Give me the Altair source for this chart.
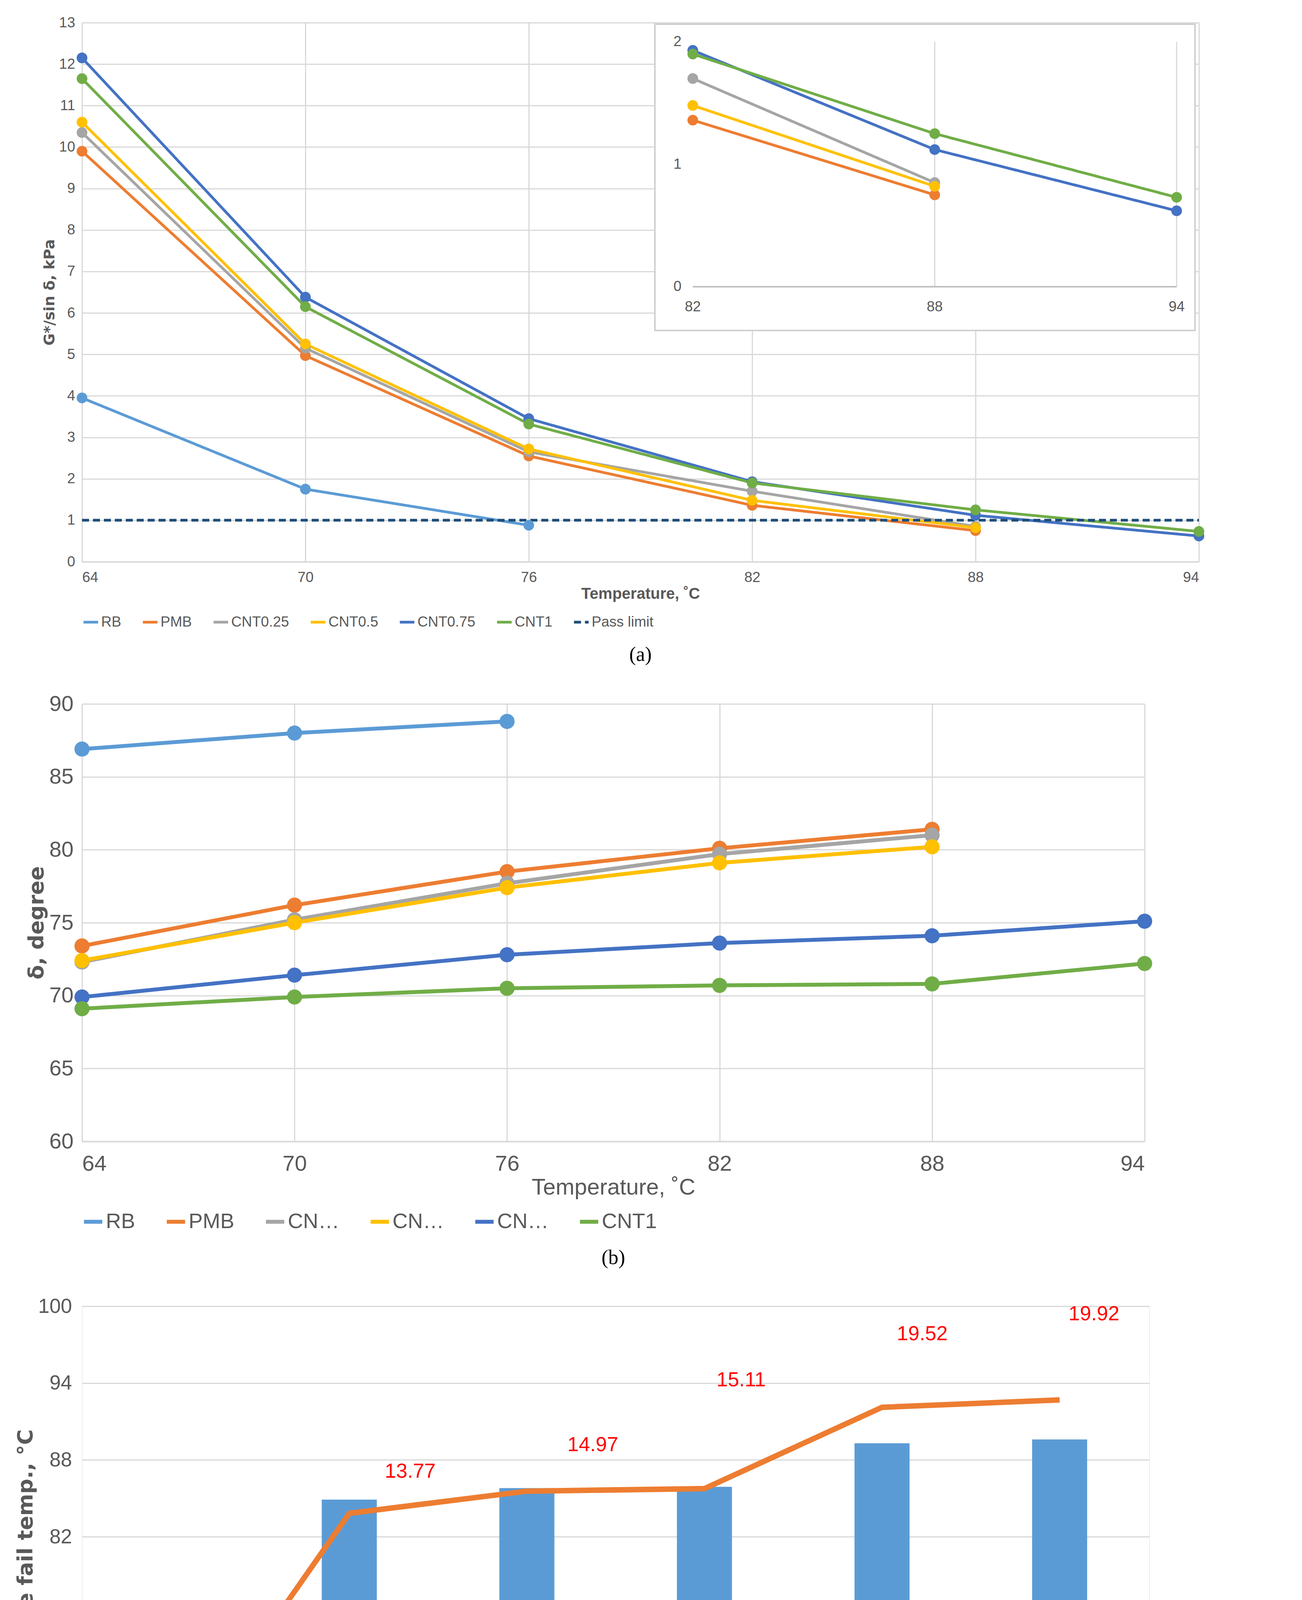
import altair as alt
import pandas as pd

# ---- data ----
temps = [64, 70, 76, 82, 88, 94]
series = ["RB", "PMB", "CNT0.25", "CNT0.5", "CNT0.75", "CNT1"]
colors = ["#5B9BD5", "#ED7D31", "#A5A5A5", "#FFC000", "#4472C4", "#70AD47"]

# (a) G*/sin delta, kPa
g_rb = [3.95, 1.75, 0.88]
g_pmb = [9.9, 4.97, 2.55, 1.36, 0.75]
g_cnt025 = [10.35, 5.15, 2.65, 1.70, 0.85]
g_cnt05 = [10.6, 5.25, 2.72, 1.48, 0.82]
g_cnt075 = [12.15, 6.38, 3.45, 1.93, 1.12, 0.62]
g_cnt1 = [11.65, 6.15, 3.32, 1.90, 1.25, 0.73]
pass_limit = 1.0

# (b) phase angle, degree
d_rb = [86.9, 88.0, 88.8]
d_pmb = [73.4, 76.2, 78.5, 80.1, 81.4]
d_cnt025 = [72.3, 75.2, 77.7, 79.7, 81.0]
d_cnt05 = [72.4, 75.0, 77.4, 79.1, 80.2]
d_cnt075 = [69.9, 71.4, 72.8, 73.6, 74.1, 75.1]
d_cnt1 = [69.1, 69.9, 70.5, 70.7, 70.8, 72.2]

# (c) true failure temperature and change
fail_temp = [74.6, 84.9, 85.8, 85.9, 89.3, 89.6]
change = [0.00, 13.77, 14.97, 15.11, 19.52, 19.92]

FONT = "Liberation Sans"
GRID = "#D9D9D9"
TXT = "#595959"


def long_df(lists):
    rows = []
    for name, vals in zip(series, lists):
        for t, v in zip(temps, vals):
            rows.append({"T": t, "v": v, "s": name})
    return pd.DataFrame(rows)


ga = long_df([g_rb, g_pmb, g_cnt025, g_cnt05, g_cnt075, g_cnt1])
pl = pd.DataFrame({"T": [64, 94], "v": [pass_limit] * 2, "s": ["Pass limit"] * 2})
ga_all = pd.concat([ga, pl])

dom_a = series + ["Pass limit"]
rng_a = colors + ["#1F4E79"]
dash_a = [[1, 0]] * 6 + [[18, 10]]

# ---------- panel (a) ----------
xa = alt.X("T:Q", scale=alt.Scale(domain=[64, 94]), title="Temperature, ˚C",
           axis=alt.Axis(values=temps, format="d", labelFontSize=37, titleFontSize=40,
                         gridColor=GRID, gridWidth=3, domainColor=GRID, domainWidth=4,
                         ticks=False, labelPadding=22, labelFont=FONT, titleFont=FONT,
                         titleColor=TXT, labelColor=TXT))
ya = alt.Y("v:Q", scale=alt.Scale(domain=[0, 13]), title="G*/sin δ, kPa",
           axis=alt.Axis(values=list(range(14)), format="d", labelFontSize=37, titleFontSize=38,
                         gridColor=GRID, gridWidth=3, domain=False, ticks=False, labelPadding=18,
                         labelFont=FONT, titleFont="DejaVu Sans", titleColor=TXT,
                         labelColor=TXT))

col_a = alt.Color("s:N", scale=alt.Scale(domain=dom_a, range=rng_a), sort=dom_a,
                  legend=alt.Legend(title=None, orient="bottom", direction="horizontal",
                                    symbolType="stroke", symbolStrokeWidth=7, symbolSize=1400,
                                    labelFontSize=37, labelFont=FONT, labelColor=TXT,
                                    columnPadding=40, offset=30))
dash_enc = alt.StrokeDash("s:N", scale=alt.Scale(domain=dom_a, range=dash_a), sort=dom_a,
                          legend=None)

base_a = alt.Chart(ga_all)
lines_a = base_a.mark_line(strokeWidth=7).encode(x=xa, y=ya, color=col_a, strokeDash=dash_enc)
pts_a = base_a.transform_filter("datum.s != 'Pass limit'").mark_point(
    filled=True, size=750, opacity=1).encode(x="T:Q", y="v:Q", color=alt.Color("s:N", legend=None))
main_a = alt.layer(lines_a, pts_a)

# inset (pixel ranges inside panel a's plot area)
ix = alt.Scale(domain=[82, 94], range=[1564, 2803])
iy = alt.Scale(domain=[0, 2], range=[676, 49])
ins_bg = alt.Chart(pd.DataFrame({"a": [0]})).mark_rect(
    fill="white", stroke="#D0D0D0", strokeWidth=4).encode(
    x=alt.value(1467), x2=alt.value(2850), y=alt.value(4), y2=alt.value(788))
ins_grid = alt.Chart(pd.DataFrame({"T": [88, 94]})).mark_rule(color=GRID, strokeWidth=3).encode(
    x=alt.X("T:Q", scale=ix, axis=None), y=alt.value(49), y2=alt.value(676))
ins_base = alt.Chart(pd.DataFrame({"a": [0]})).mark_rule(color="#BFBFBF", strokeWidth=4).encode(
    x=alt.value(1564), x2=alt.value(2803), y=alt.value(676))
ins_src = alt.Chart(ga_all).transform_filter("datum.T >= 82")
ins_lines = ins_src.mark_line(strokeWidth=7).encode(
    x=alt.X("T:Q", scale=ix, axis=None), y=alt.Y("v:Q", scale=iy, axis=None),
    color=alt.Color("s:N", legend=None), strokeDash=dash_enc)
ins_pts = ins_src.transform_filter("datum.s != 'Pass limit'").mark_point(
    filled=True, size=750, opacity=1).encode(
    x=alt.X("T:Q", scale=ix, axis=None), y=alt.Y("v:Q", scale=iy, axis=None),
    color=alt.Color("s:N", legend=None))
ins_xl = alt.Chart(pd.DataFrame({"T": [82, 88, 94]})).mark_text(
    fontSize=37, font=FONT, color=TXT).encode(
    x=alt.X("T:Q", scale=ix, axis=None), y=alt.value(728), text="T:Q")
ins_yl = alt.Chart(pd.DataFrame({"v": [0, 1, 2]})).mark_text(
    fontSize=37, font=FONT, color=TXT, align="right").encode(
    x=alt.value(1535), y=alt.Y("v:Q", scale=iy, axis=None), text="v:Q")
inset = alt.layer(ins_bg, ins_grid, ins_base, ins_lines, ins_pts, ins_xl, ins_yl)

panel_a = alt.layer(main_a, inset).resolve_scale(x="independent", y="independent").properties(
    width=2860, height=1380,
    title=alt.TitleParams("(a)", orient="bottom", font="Liberation Serif", fontSize=52,
                          fontWeight="normal", offset=40))

# ---------- panel (b) ----------
db = long_df([d_rb, d_pmb, d_cnt025, d_cnt05, d_cnt075, d_cnt1])
xb = alt.X("T:Q", scale=alt.Scale(domain=[64, 94]), title="Temperature, ˚C",
           axis=alt.Axis(values=temps, format="d", labelFontSize=56, titleFontSize=58,
                         gridColor=GRID, gridWidth=3, domainColor=GRID, domainWidth=4,
                         ticks=False, labelPadding=30, labelFont=FONT, titleFont=FONT,
                         titleFontWeight="normal", titleColor=TXT, labelColor=TXT))
yb = alt.Y("v:Q", scale=alt.Scale(domain=[60, 90]), title="δ, degree",
           axis=alt.Axis(values=list(range(60, 91, 5)), labelFontSize=56, titleFontSize=54,
                         gridColor=GRID, gridWidth=3, domain=False, ticks=False, labelPadding=22,
                         labelFont=FONT, titleFont="DejaVu Sans", titleColor=TXT,
                         labelColor=TXT))
col_b = alt.Color("s:N", scale=alt.Scale(domain=series, range=colors), sort=series,
                  legend=alt.Legend(title=None, orient="bottom", direction="horizontal",
                                    symbolType="stroke", symbolStrokeWidth=10, symbolSize=2200,
                                    labelFontSize=54, labelFont=FONT, labelColor=TXT,
                                    columnPadding=60, offset=30))
base_b = alt.Chart(db)
panel_b = alt.layer(
    base_b.mark_line(strokeWidth=10).encode(x=xb, y=yb, color=col_b),
    base_b.mark_point(filled=True, size=1500, opacity=1).encode(x="T:Q", y="v:Q", color="s:N"),
).properties(width=2721, height=1120,
             title=alt.TitleParams("(b)", orient="bottom", font="Liberation Serif", fontSize=52,
                                   fontWeight="normal", offset=40))

# ---------- panel (c) ----------
dc = pd.DataFrame({"b": series, "fail": fail_temp, "chg": change,
                   "lab": [f"{c:.2f}" for c in change]})
label_dx = [197, 156, 169, 94, 103, 88]
label_dy = [-100, -107, -118, -278, -188, -220]

xc = alt.X("b:N", sort=series, title="Asphalt binder type",
           scale=alt.Scale(paddingInner=0.69, paddingOuter=0.35),
           axis=alt.Axis(labelAngle=0, labelFontSize=52, titleFontSize=56, domainColor=GRID,
                         domainWidth=4, ticks=False, labelPadding=30, titlePadding=30,
                         labelFont=FONT, titleFont=FONT, titleFontWeight="normal",
                         titleColor=TXT, labelColor=TXT))
leg_c = alt.Color("k:N", scale=alt.Scale(domain=["Fail Temp", "Change"],
                                          range=["#5B9BD5", "#ED7D31"]),
                  legend=alt.Legend(title=None, orient="bottom", direction="horizontal",
                                    symbolType="stroke", symbolStrokeWidth=20, symbolSize=3500,
                                    labelFontSize=52, labelFont=FONT, labelColor=TXT,
                                    columnPadding=60, offset=30))
bars = alt.Chart(dc).transform_calculate(k="'Fail Temp'").mark_bar().encode(
    x=xc,
    y=alt.Y("fail:Q", scale=alt.Scale(domain=[64, 100]), title="True fail temp., °C",
            axis=alt.Axis(values=list(range(64, 101, 6)), labelFontSize=52, titleFontSize=54,
                          gridColor=GRID, gridWidth=3, domain=False, ticks=False,
                          labelPadding=26, labelFont=FONT, titleFont="DejaVu Sans",
                          titleColor=TXT, labelColor=TXT)),
    y2=alt.datum(64),
    color=leg_c)
chg_y = alt.Y("chg:Q", scale=alt.Scale(domain=[0, 25]), title="Change, %",
              axis=alt.Axis(values=list(range(0, 25, 4)), format=".1f", orient="right",
                            labelFontSize=52, titleFontSize=54, grid=False, domain=False,
                            ticks=False, labelPadding=26, labelFont=FONT,
                            titleFont="DejaVu Sans", titleColor=TXT, labelColor=TXT))
line_c = alt.Chart(dc).transform_calculate(k="'Change'").mark_line(strokeWidth=14).encode(
    x=alt.X("b:N", sort=series), y=chg_y, color=leg_c)
labels = [
    alt.Chart(dc.iloc[[i]]).mark_text(color="#FF0000", fontSize=52, font=FONT,
                                      dx=label_dx[i], dy=label_dy[i]).encode(
        x=alt.X("b:N", sort=series), y=alt.Y("chg:Q", scale=alt.Scale(domain=[0, 25]), axis=None),
        text="lab:N")
    for i in range(len(series))
]
right_c = alt.layer(line_c, *labels)
panel_c = alt.layer(bars, right_c).resolve_scale(y="independent").properties(
    width=2733, height=1180,
    title=alt.TitleParams("(c)", orient="bottom", font="Liberation Serif", fontSize=52,
                          fontWeight="normal", offset=40))

chart = alt.vconcat(panel_a, panel_b, panel_c, spacing=70).resolve_scale(
    color="independent", strokeDash="independent").resolve_legend(
    color="independent").configure_view(
    stroke="transparent").configure(background="white", padding=30)

chart.save("out.html", embed_options={"renderer": "svg", "actions": False})
